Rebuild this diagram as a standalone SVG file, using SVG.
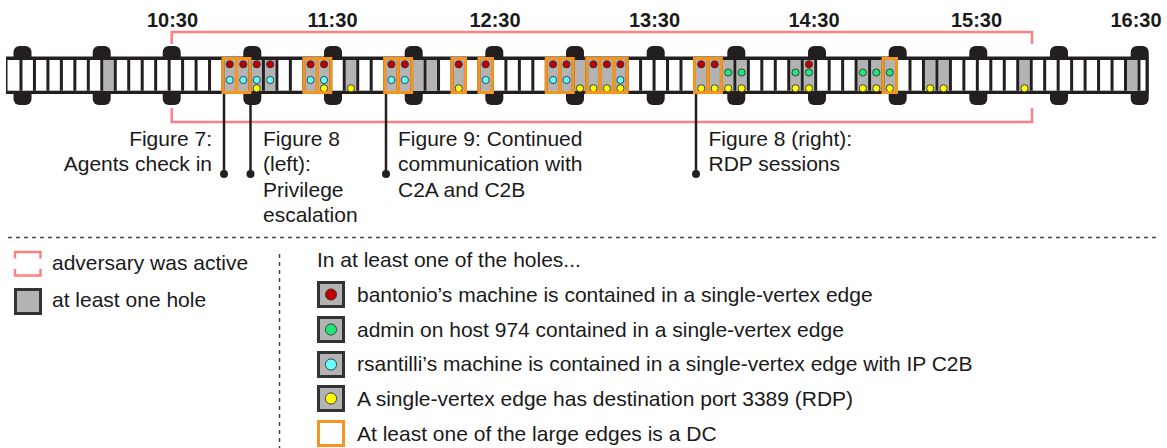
<svg xmlns="http://www.w3.org/2000/svg" width="1167" height="448" viewBox="0 0 1167 448">
<style>
.t{font-family:"Liberation Sans",Arial,sans-serif;font-size:21px;fill:#1a1a1a}
.h{font-family:"Liberation Sans",Arial,sans-serif;font-size:20px;font-weight:bold;fill:#1a1a1a;text-anchor:middle}
.e{text-anchor:end}
.g{fill:#b3b3b3}
.o{fill:none;stroke:#f7941d;stroke-width:3}
.d{stroke:#333;stroke-width:0.9}
.r{fill:#c00000}
.n{fill:#22e57a}
.c{fill:#66ffff}
.y{fill:#ffff00}
.sp{fill:#231f20}
.pin{stroke:#231f20;stroke-width:2.5}
.dash{stroke:#444;stroke-width:1.5;stroke-dasharray:4 4;fill:none}
.ic{stroke:#333;stroke-width:3}
</style>
<rect width="1167" height="448" fill="#fff"/>
<g id="time-labels">
<text class="h" x="172.5" y="27">10:30</text>
<text class="h" x="332.5" y="27">11:30</text>
<text class="h" x="495" y="27">12:30</text>
<text class="h" x="654.5" y="27">13:30</text>
<text class="h" x="814" y="27">14:30</text>
<text class="h" x="976.5" y="27">15:30</text>
<text class="h" x="1136" y="27">16:30</text>
</g>
<g id="adversary-active">
<rect x="171.7" y="32" width="860.3" height="90" fill="none" stroke="#ff8080" stroke-width="2.5"/>
<rect x="0" y="44" width="1167" height="64" fill="#fff"/>
</g>
<g id="sprockets" class="sp">
<rect x="13.5" y="46" width="18" height="59" rx="6"/>
<rect x="92.7" y="46" width="18" height="59" rx="6"/>
<rect x="162.7" y="46" width="18" height="59" rx="6"/>
<rect x="243.3" y="46" width="18" height="59" rx="6"/>
<rect x="324" y="46" width="18" height="59" rx="6"/>
<rect x="404.7" y="46" width="18" height="59" rx="6"/>
<rect x="485.3" y="46" width="18" height="59" rx="6"/>
<rect x="566" y="46" width="18" height="59" rx="6"/>
<rect x="646.7" y="46" width="18" height="59" rx="6"/>
<rect x="727.3" y="46" width="18" height="59" rx="6"/>
<rect x="808" y="46" width="18" height="59" rx="6"/>
<rect x="888.7" y="46" width="18" height="59" rx="6"/>
<rect x="969.3" y="46" width="18" height="59" rx="6"/>
<rect x="1050" y="46" width="18" height="59" rx="6"/>
<rect x="1130.7" y="46" width="18" height="59" rx="6"/>
</g>
<g id="strip">
<rect x="6" y="56.5" width="1142.5" height="37.5" fill="#231f20"/>
<rect x="7.5" y="60" width="1138" height="30.7" fill="#fff"/>
</g>
<g id="holes" class="g">
<rect x="103.29" y="60" width="10.47" height="30.7"/>
<rect x="224.52" y="60" width="10.47" height="30.7"/>
<rect x="237.99" y="60" width="10.47" height="30.7"/>
<rect x="251.46" y="60" width="10.47" height="30.7"/>
<rect x="264.93" y="60" width="10.47" height="30.7"/>
<rect x="305.34" y="60" width="10.47" height="30.7"/>
<rect x="318.81" y="60" width="10.47" height="30.7"/>
<rect x="345.75" y="60" width="10.47" height="30.7"/>
<rect x="386.16" y="60" width="10.47" height="30.7"/>
<rect x="399.63" y="60" width="10.47" height="30.7"/>
<rect x="413.10" y="60" width="10.47" height="30.7"/>
<rect x="426.57" y="60" width="10.47" height="30.7"/>
<rect x="453.51" y="60" width="10.47" height="30.7"/>
<rect x="480.45" y="60" width="10.47" height="30.7"/>
<rect x="547.80" y="60" width="10.47" height="30.7"/>
<rect x="561.27" y="60" width="10.47" height="30.7"/>
<rect x="574.74" y="60" width="10.47" height="30.7"/>
<rect x="588.21" y="60" width="10.47" height="30.7"/>
<rect x="601.68" y="60" width="10.47" height="30.7"/>
<rect x="615.15" y="60" width="10.47" height="30.7"/>
<rect x="695.97" y="60" width="10.47" height="30.7"/>
<rect x="709.44" y="60" width="10.47" height="30.7"/>
<rect x="722.91" y="60" width="10.47" height="30.7"/>
<rect x="736.38" y="60" width="10.47" height="30.7"/>
<rect x="790.26" y="60" width="10.47" height="30.7"/>
<rect x="803.73" y="60" width="10.47" height="30.7"/>
<rect x="857.61" y="60" width="10.47" height="30.7"/>
<rect x="871.08" y="60" width="10.47" height="30.7"/>
<rect x="884.55" y="60" width="10.47" height="30.7"/>
<rect x="924.96" y="60" width="10.47" height="30.7"/>
<rect x="938.43" y="60" width="10.47" height="30.7"/>
<rect x="1019.25" y="60" width="10.47" height="30.7"/>
<rect x="1127.01" y="60" width="10.47" height="30.7"/>
</g>
<g id="dividers">
<line x1="19.47" y1="75.35" x2="1145.5" y2="75.35" stroke="#231f20" stroke-width="30.7" stroke-dasharray="3 10.47"/>
</g>
<g id="dots">
<circle class="d r" cx="229.76" cy="64.3" r="3.6"/><circle class="d c" cx="229.76" cy="80" r="3.6"/>
<circle class="d r" cx="243.23" cy="64.3" r="3.6"/><circle class="d c" cx="243.23" cy="80" r="3.6"/>
<circle class="d r" cx="256.7" cy="64.3" r="3.6"/><circle class="d c" cx="256.7" cy="80" r="3.6"/><circle class="d y" cx="256.7" cy="88.3" r="3.6"/>
<circle class="d r" cx="270.17" cy="64.3" r="3.6"/><circle class="d c" cx="270.17" cy="80" r="3.6"/>
<circle class="d r" cx="310.58" cy="64.3" r="3.6"/><circle class="d c" cx="310.58" cy="80" r="3.6"/>
<circle class="d r" cx="324.05" cy="64.3" r="3.6"/><circle class="d c" cx="324.05" cy="80" r="3.6"/><circle class="d y" cx="324.05" cy="88.3" r="3.6"/>
<circle class="d y" cx="350.99" cy="88.3" r="3.6"/>
<circle class="d r" cx="391.4" cy="64.3" r="3.6"/><circle class="d c" cx="391.4" cy="80" r="3.6"/>
<circle class="d r" cx="404.87" cy="64.3" r="3.6"/><circle class="d c" cx="404.87" cy="80" r="3.6"/>
<circle class="d r" cx="458.75" cy="64.3" r="3.6"/><circle class="d y" cx="458.75" cy="88.3" r="3.6"/>
<circle class="d r" cx="485.69" cy="64.3" r="3.6"/><circle class="d c" cx="485.69" cy="80" r="3.6"/>
<circle class="d r" cx="553.04" cy="64.3" r="3.6"/><circle class="d c" cx="553.04" cy="80" r="3.6"/>
<circle class="d r" cx="566.51" cy="64.3" r="3.6"/><circle class="d c" cx="566.51" cy="80" r="3.6"/>
<circle class="d y" cx="579.98" cy="88.3" r="3.6"/>
<circle class="d r" cx="593.45" cy="64.3" r="3.6"/><circle class="d y" cx="593.45" cy="88.3" r="3.6"/>
<circle class="d r" cx="606.92" cy="64.3" r="3.6"/><circle class="d y" cx="606.92" cy="88.3" r="3.6"/>
<circle class="d r" cx="620.39" cy="64.3" r="3.6"/><circle class="d c" cx="620.39" cy="80" r="3.6"/><circle class="d y" cx="620.39" cy="88.3" r="3.6"/>
<circle class="d r" cx="701.21" cy="64.3" r="3.6"/><circle class="d y" cx="701.21" cy="88.3" r="3.6"/>
<circle class="d r" cx="714.68" cy="64.3" r="3.6"/><circle class="d y" cx="714.68" cy="88.3" r="3.6"/>
<circle class="d n" cx="728.15" cy="72.5" r="3.6"/><circle class="d y" cx="728.15" cy="88.3" r="3.6"/>
<circle class="d n" cx="741.62" cy="72.5" r="3.6"/><circle class="d y" cx="741.62" cy="88.3" r="3.6"/>
<circle class="d n" cx="795.5" cy="72.5" r="3.6"/><circle class="d y" cx="795.5" cy="88.3" r="3.6"/>
<circle class="d r" cx="808.97" cy="64.3" r="3.6"/><circle class="d n" cx="808.97" cy="72.5" r="3.6"/><circle class="d y" cx="808.97" cy="88.3" r="3.6"/>
<circle class="d n" cx="862.85" cy="72.5" r="3.6"/><circle class="d y" cx="862.85" cy="88.3" r="3.6"/>
<circle class="d n" cx="876.32" cy="72.5" r="3.6"/><circle class="d y" cx="876.32" cy="88.3" r="3.6"/>
<circle class="d n" cx="889.79" cy="72.5" r="3.6"/><circle class="d y" cx="889.79" cy="88.3" r="3.6"/>
<circle class="d y" cx="930.2" cy="88.3" r="3.6"/>
<circle class="d y" cx="943.67" cy="88.3" r="3.6"/>
<circle class="d y" cx="1024.49" cy="88.3" r="3.6"/>
</g>
<g id="dc-boxes" class="o">
<rect x="223.02" y="58.5" width="13.47" height="34"/>
<rect x="236.49" y="58.5" width="13.47" height="34"/>
<rect x="303.84" y="58.5" width="13.47" height="34"/>
<rect x="317.31" y="58.5" width="13.47" height="34"/>
<rect x="384.66" y="58.5" width="13.47" height="34"/>
<rect x="398.13" y="58.5" width="13.47" height="34"/>
<rect x="452.01" y="58.5" width="13.47" height="34"/>
<rect x="478.95" y="58.5" width="13.47" height="34"/>
<rect x="546.3" y="58.5" width="13.47" height="34"/>
<rect x="559.77" y="58.5" width="13.47" height="34"/>
<rect x="586.71" y="58.5" width="13.47" height="34"/>
<rect x="600.18" y="58.5" width="13.47" height="34"/>
<rect x="613.65" y="58.5" width="13.47" height="34"/>
<rect x="694.47" y="58.5" width="13.47" height="34"/>
<rect x="707.94" y="58.5" width="13.47" height="34"/>
<rect x="883.05" y="58.5" width="13.47" height="34"/>
</g>
<g id="connectors">
<line class="pin" x1="224" y1="94" x2="224" y2="174"/><circle class="sp" cx="224" cy="174" r="4"/>
<line class="pin" x1="250.5" y1="94" x2="250.5" y2="174"/><circle class="sp" cx="250.5" cy="174" r="4"/>
<line class="pin" x1="386" y1="94" x2="386" y2="174"/><circle class="sp" cx="386" cy="174" r="4"/>
<line class="pin" x1="696" y1="94" x2="696" y2="174"/><circle class="sp" cx="696" cy="174" r="4"/>
</g>
<g id="note-fig7">
<text class="t e" x="212" y="145.5">Figure 7:</text>
<text class="t e" x="212" y="171">Agents check in</text>
</g>
<g id="note-fig8-left">
<text class="t" x="263" y="145.5">Figure 8</text>
<text class="t" x="263" y="171">(left):</text>
<text class="t" x="263" y="196.5">Privilege</text>
<text class="t" x="263" y="222">escalation</text>
</g>
<g id="note-fig9">
<text class="t" x="398" y="145.5">Figure 9: Continued</text>
<text class="t" x="398" y="171">communication with</text>
<text class="t" x="398" y="196.5">C2A and C2B</text>
</g>
<g id="note-fig8-right">
<text class="t" x="708.5" y="145.5">Figure 8 (right):</text>
<text class="t" x="708.5" y="171">RDP sessions</text>
</g>
<g id="separators">
<line class="dash" x1="8" y1="237.5" x2="1160" y2="237.5"/>
<line class="dash" x1="279.5" y1="254" x2="279.5" y2="448"/>
</g>
<g id="legend-left">
<path d="M15,258.5V252H40.5V258.5M15,269V275.5H40.5V269" fill="none" stroke="#ff8080" stroke-width="2.5"/>
<text class="t" x="52" y="269.5">adversary was active</text>
<rect class="g ic" x="15.5" y="289.5" width="25" height="24"/>
<text class="t" x="52" y="306.5">at least one hole</text>
</g>
<g id="legend-right">
<text class="t" x="317" y="267">In at least one of the holes...</text>
<rect class="g ic" x="318.5" y="282.5" width="25" height="24"/><circle class="d r" cx="331" cy="294.5" r="5.6"/>
<text class="t" x="357" y="302">bantonio’s machine is contained in a single-vertex edge</text>
<rect class="g ic" x="318.5" y="317.5" width="25" height="24"/><circle class="d n" cx="331" cy="329.5" r="5.6"/>
<text class="t" x="357" y="336.5">admin on host 974 contained in a single-vertex edge</text>
<rect class="g ic" x="318.5" y="352.5" width="25" height="24"/><circle class="d c" cx="331" cy="364.5" r="5.6"/>
<text class="t" x="357" y="371">rsantilli’s machine is contained in a single-vertex edge with IP C2B</text>
<rect class="g ic" x="318.5" y="386.5" width="25" height="24"/><circle class="d y" cx="331" cy="398.5" r="5.6"/>
<text class="t" x="357" y="405.5">A single-vertex edge has destination port 3389 (RDP)</text>
<rect x="318.5" y="421.5" width="25" height="24" fill="#fff" stroke="#f7941d" stroke-width="3"/>
<text class="t" x="357" y="440.5">At least one of the large edges is a DC</text>
</g>
</svg>
